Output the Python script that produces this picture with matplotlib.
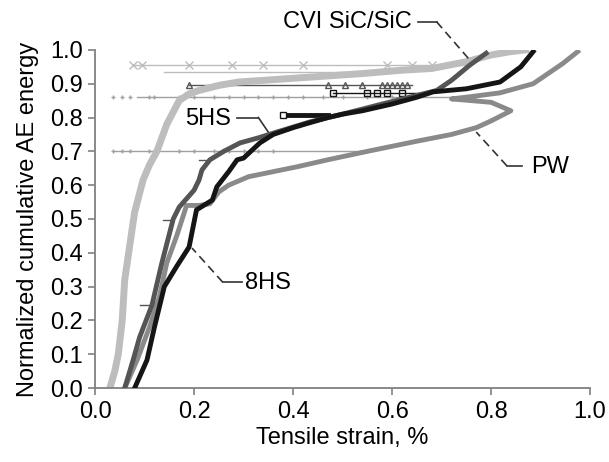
import matplotlib
matplotlib.use("Agg")
import matplotlib.pyplot as plt

plt.rcParams['font.family'] = ['Liberation Sans', 'DejaVu Sans']

# ---- data ----
cvi_x = [0.03, 0.040, 0.047, 0.055, 0.060, 0.070, 0.080, 0.097, 0.110, 0.125, 0.145,
         0.170, 0.190, 0.210, 0.250, 0.290, 0.340, 0.440, 0.540, 0.620, 0.680, 0.750,
         0.800, 0.840, 0.870]
cvi_y = [0.00, 0.05, 0.10, 0.20, 0.32, 0.42, 0.52, 0.615, 0.66, 0.70, 0.78,
         0.85, 0.87, 0.88, 0.895, 0.905, 0.91, 0.92, 0.93, 0.94, 0.945, 0.965,
         0.985, 0.995, 1.00]

hs5_x = [0.060, 0.077, 0.090, 0.115, 0.135, 0.158, 0.170, 0.200, 0.210, 0.216, 0.232,
         0.260, 0.293, 0.330, 0.367, 0.434, 0.500, 0.580, 0.690, 0.720, 0.757, 0.790]
hs5_y = [0.00, 0.083, 0.15, 0.245, 0.37, 0.50, 0.535, 0.585, 0.615, 0.645, 0.675,
         0.70, 0.725, 0.74, 0.757, 0.787, 0.81, 0.84, 0.88, 0.91, 0.955, 0.99]

hs8_x = [0.080, 0.105, 0.120, 0.140, 0.165, 0.190, 0.205, 0.237, 0.246, 0.270, 0.287,
         0.300, 0.333, 0.360, 0.400, 0.430, 0.470, 0.500, 0.540, 0.600, 0.650, 0.683,
         0.750, 0.818, 0.860, 0.885]
hs8_y = [0.00, 0.083, 0.18, 0.30, 0.36, 0.417, 0.527, 0.556, 0.595, 0.64, 0.675,
         0.68, 0.725, 0.75, 0.77, 0.783, 0.80, 0.81, 0.82, 0.84, 0.86, 0.876,
         0.885, 0.905, 0.95, 0.995]

pw_x = [0.060, 0.085, 0.110, 0.130, 0.145, 0.165, 0.185, 0.210, 0.232, 0.250, 0.270,
        0.310, 0.360, 0.410, 0.470, 0.550, 0.650, 0.720, 0.770, 0.800, 0.840, 0.800,
        0.720, 0.760, 0.818, 0.885, 0.945, 0.975]
pw_y = [0.00, 0.083, 0.18, 0.27, 0.37, 0.45, 0.54, 0.54, 0.545, 0.58, 0.60,
        0.625, 0.64, 0.655, 0.675, 0.70, 0.73, 0.75, 0.77, 0.79, 0.82, 0.845,
        0.855, 0.862, 0.873, 0.90, 0.96, 0.995]

# spurious horizontal excursions in the recorded data: (y, x_from, x_to)
cvi_jumps = [(0.955, 0.077, 0.75), (0.935, 0.14, 0.55)]
cvi_jump_marks = [0.077, 0.095, 0.19, 0.277, 0.34, 0.42, 0.59, 0.64, 0.68]
pw_jumps = [(0.70, 0.036, 0.55), (0.86, 0.085, 0.72)]
pw_jump_marks = [0.036, 0.055, 0.07, 0.11, 0.12, 0.17, 0.2, 0.24, 0.27, 0.3, 0.33,
                 0.36, 0.39, 0.42, 0.46, 0.5, 0.55, 0.6]
hs5_jumps = [(0.895, 0.19, 0.64), (0.675, 0.21, 0.232), (0.497, 0.137, 0.158),
             (0.245, 0.09, 0.115)]
hs5_jump_marks = [0.19, 0.47, 0.505, 0.54, 0.58, 0.59, 0.60, 0.61, 0.62, 0.63]
hs8_jumps = [(0.873, 0.48, 0.66), (0.807, 0.38, 0.47)]
hs8_jump_marks = [0.48, 0.55, 0.57, 0.59, 0.62, 0.38]

x_ticks = [0.0, 0.2, 0.4, 0.6, 0.8, 1.0]
y_ticks = [0.0, 0.1, 0.2, 0.3, 0.4, 0.5, 0.6, 0.7, 0.8, 0.9, 1.0]

c_cvi, c_pw, c_5hs, c_8hs = '#bdbdbd', '#8a8a8a', '#555555', '#151515'

fig = plt.figure(figsize=(6.09, 4.62), dpi=100)
ax = fig.add_axes([0.156, 0.160, 0.813, 0.732])

def jumps(jlist, marks, color, marker, ms):
    for (yy, x0, x1) in jlist:
        ax.plot([x0, x1], [yy, yy], color=color, lw=1.0, zorder=1)
    yy0 = jlist[0][0]
    ax.plot(marks, [yy0] * len(marks), ls='none', marker=marker, ms=ms,
            color=color, mew=1.0, mfc='none', zorder=1)

jumps(cvi_jumps, cvi_jump_marks, c_cvi, 'x', 6)
jumps(pw_jumps[1:], pw_jump_marks, '#a0a0a0', '+', 3)
ax.plot([pw_jumps[0][1], pw_jumps[0][2]], [pw_jumps[0][0]] * 2, color='#a0a0a0', lw=1.0, zorder=1)
ax.plot(pw_jump_marks[:12], [pw_jumps[0][0]] * 12, ls='none', marker='+', ms=3,
        color='#a0a0a0', zorder=1)
jumps(hs5_jumps, hs5_jump_marks, c_5hs, '^', 4)
ax.plot([hs8_jumps[1][1], hs8_jumps[1][2]], [hs8_jumps[1][0]] * 2, color=c_8hs, lw=3.5, zorder=3)
jumps(hs8_jumps[:1], hs8_jump_marks[:5], c_8hs, 's', 4)
ax.plot([hs8_jump_marks[5]], [hs8_jumps[1][0]], ls='none', marker='s', ms=5,
        mfc='white', mec=c_8hs, zorder=4)

ax.plot(cvi_x, cvi_y, color=c_cvi, lw=5, solid_joinstyle='round', zorder=2)
ax.plot(pw_x, pw_y, color=c_pw, lw=3.5, solid_joinstyle='round', zorder=3)
ax.plot(hs5_x, hs5_y, color=c_5hs, lw=3.5, solid_joinstyle='round', zorder=3)
ax.plot(hs8_x, hs8_y, color=c_8hs, lw=3.5, solid_joinstyle='round', zorder=4)

ax.set_xlim(0, 1.0)
ax.set_ylim(0, 1.0)
ax.set_xticks(x_ticks)
ax.set_yticks(y_ticks)
ax.set_xticklabels([f"{v:.1f}" for v in x_ticks])
ax.set_yticklabels([f"{v:.1f}" for v in y_ticks])
for s in ['top', 'right']:
    ax.spines[s].set_visible(False)
for s in ['left', 'bottom']:
    ax.spines[s].set_color('#808080')
    ax.spines[s].set_linewidth(1.3)
ax.tick_params(direction='out', length=5, width=1.2, color='#808080',
               labelsize=17, pad=4)
ax.set_xlabel('Tensile strain, %', fontsize=17, labelpad=3)
ax.set_ylabel('Normalized cumulative AE energy', fontsize=17, labelpad=8)

# annotations
fs = 17
ax.text(0.51, 1.083, 'CVI SiC/SiC', fontsize=fs, ha='center', va='center', clip_on=False)
ax.plot([0.653, 0.690], [1.083, 1.083], color='#333333', lw=1.2, clip_on=False)
ax.plot([0.690, 0.754], [1.083, 0.975], color='#333333', lw=1.2, ls=(0, (5, 3)), clip_on=False)

ax.text(0.92, 0.655, 'PW', fontsize=fs, ha='center', va='center')
ax.plot([0.862, 0.832], [0.657, 0.657], color='#333333', lw=1.2)
ax.plot([0.832, 0.77], [0.657, 0.757], color='#333333', lw=1.2, ls=(0, (5, 3)))

ax.text(0.228, 0.796, '5HS', fontsize=fs, ha='center', va='center')
ax.plot([0.287, 0.33], [0.80, 0.80], color='#333333', lw=1.2)
ax.plot([0.33, 0.35], [0.80, 0.757], color='#333333', lw=1.2)

ax.text(0.35, 0.31, '8HS', fontsize=fs, ha='center', va='center')
ax.plot([0.297, 0.258], [0.313, 0.313], color='#333333', lw=1.2)
ax.plot([0.258, 0.196], [0.313, 0.414], color='#333333', lw=1.2, ls=(0, (5, 3)))

fig.savefig('out.png', dpi=100)
